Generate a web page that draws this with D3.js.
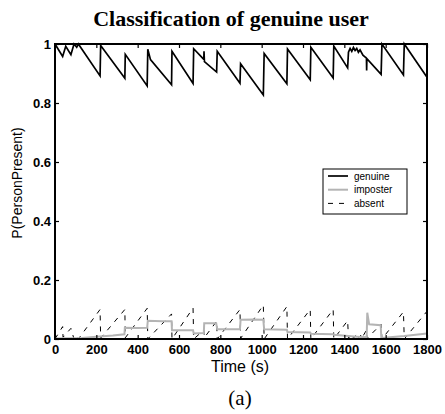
<!DOCTYPE html>
<html lang="en">
<head>
<meta charset="utf-8">
<title>Classification of genuine user</title>
<script src="https://cdn.jsdelivr.net/npm/d3@7"></script>
<style>
  body { margin: 0; background: #fff; }
  svg text { font-family: "Liberation Sans", Arial, sans-serif; }
  .tick text { font-weight: bold; font-size: 13px; }
</style>
</head>
<body>
<div id="chart"></div>
<script>
// time (s) / probability pairs
const genuineT = [0, 37, 52, 77, 92, 105, 113, 218, 221, 338, 340, 446, 449, 462, 564, 566, 668, 671, 720, 721, 723, 782, 785, 895, 898, 1008, 1012, 1122, 1125, 1235, 1238, 1346, 1349, 1416, 1420, 1428, 1436, 1444, 1452, 1460, 1468, 1476, 1490, 1507, 1508, 1509, 1578, 1582, 1686, 1690, 1800];
const genuineP = [1.0, 0.958, 0.992, 0.964, 1.0, 0.989, 1.0, 0.892, 0.995, 0.884, 0.965, 0.858, 0.982, 0.947, 0.862, 0.975, 0.866, 0.984, 0.948, 0.975, 0.94, 0.905, 0.975, 0.867, 0.933, 0.827, 0.968, 0.865, 0.983, 0.879, 0.989, 0.885, 0.993, 0.919, 0.972, 0.985, 0.975, 0.988, 0.978, 0.985, 0.972, 0.98, 0.962, 0.952, 0.91, 0.95, 0.897, 1.0, 0.895, 1.0, 0.887];

const imposterT = [0, 130, 200, 280, 336, 338, 400, 446, 449, 520, 564, 566, 620, 668, 671, 720, 722, 780, 785, 850, 895, 898, 960, 1008, 1012, 1122, 1125, 1235, 1238, 1346, 1349, 1420, 1460, 1508, 1511, 1520, 1576, 1579, 1690, 1800];
const imposterP = [0.002, 0.003, 0.008, 0.012, 0.016, 0.038, 0.037, 0.038, 0.062, 0.06, 0.06, 0.03, 0.03, 0.03, 0.019, 0.02, 0.053, 0.053, 0.033, 0.033, 0.033, 0.065, 0.066, 0.065, 0.033, 0.031, 0.024, 0.022, 0.018, 0.016, 0.014, 0.01, 0.008, 0.006, 0.089, 0.05, 0.047, 0.003, 0.01, 0.019];

const absentT = [0, 37, 39, 77, 92, 105, 113, 218, 221, 338, 340, 446, 449, 564, 566, 668, 671, 720, 723, 782, 785, 895, 898, 1008, 1012, 1122, 1125, 1235, 1238, 1346, 1349, 1416, 1420, 1440, 1442, 1460, 1462, 1480, 1482, 1507, 1510, 1578, 1582, 1686, 1690, 1800];
const absentP = [0, 0.042, 0.006, 0.036, 0, 0.012, 0, 0.1, 0.003, 0.1, 0.004, 0.104, 0, 0.085, 0, 0.105, 0, 0.03, 0.005, 0.06, 0, 0.1, 0.002, 0.115, 0, 0.11, 0, 0.1, 0, 0.1, 0, 0.062, 0.004, 0.015, 0.002, 0.014, 0.002, 0.012, 0, 0.03, 0.002, 0.05, 0, 0.092, 0, 0.094];

const xTicks = [0, 200, 400, 600, 800, 1000, 1200, 1400, 1600, 1800];
const yTicks = [0, 0.2, 0.4, 0.6, 0.8, 1];
const legendNames = ["genuine", "imposter", "absent"];

const w = 445, h = 414;
const plotL = 55, plotR = 427, plotT = 44, plotB = 339;

const svg = d3.select("#chart").append("svg")
  .attr("width", w)
  .attr("height", h);

const x = d3.scaleLinear().domain([0, 1800]).range([plotL, plotR]);
const y = d3.scaleLinear().domain([0, 1]).range([plotB, plotT]);

// title
svg.append("text")
  .attr("x", 231).attr("y", 26)
  .attr("text-anchor", "middle")
  .style("font-family", "'Liberation Serif', 'Times New Roman', serif")
  .style("font-weight", "bold")
  .style("font-size", "22px")
  .text("Classification of genuine user");

const zip = (ts, ps) => ts.map((t, i) => [t, ps[i]]);
const line = d3.line().x(d => x(d[0])).y(d => y(d[1]));

const series = [
  { name: "absent", data: zip(absentT, absentP), color: "#000", width: 1, dash: "5,6" },
  { name: "imposter", data: zip(imposterT, imposterP), color: "#b4b4b4", width: 2, dash: null },
  { name: "genuine", data: zip(genuineT, genuineP), color: "#000", width: 1.7, dash: null }
];

svg.append("g")
  .selectAll("path")
  .data(series)
  .enter()
  .append("path")
    .attr("d", d => line(d.data))
    .attr("fill", "none")
    .attr("stroke", d => d.color)
    .attr("stroke-width", d => d.width)
    .attr("stroke-dasharray", d => d.dash);

// axes, MATLAB style: inward ticks on all four sides
const xAxis = d3.axisBottom(x).tickValues(xTicks).tickSize(-4).tickPadding(6).tickFormat(d3.format("d"));
const yAxis = d3.axisLeft(y).tickValues(yTicks).tickSize(-4).tickPadding(4).tickFormat(d => d === 0 || d === 1 ? d : d3.format(".1f")(d));

svg.append("g").attr("class", "x axis")
  .attr("transform", `translate(0,${plotB})`)
  .call(xAxis);
svg.append("g").attr("class", "y axis")
  .attr("transform", `translate(${plotL},0)`)
  .call(yAxis);
svg.append("g")
  .attr("transform", `translate(0,${plotT})`)
  .call(d3.axisTop(x).tickValues(xTicks).tickSize(-4).tickFormat(""));
svg.append("g")
  .attr("transform", `translate(${plotR},0)`)
  .call(d3.axisRight(y).tickValues(yTicks).tickSize(-4).tickFormat(""));

svg.selectAll(".domain").remove();
svg.selectAll(".tick line").attr("stroke", "#000").attr("stroke-width", 1.2);
svg.selectAll(".tick text").attr("fill", "#000");

svg.append("rect")
  .attr("x", plotL).attr("y", plotT)
  .attr("width", plotR - plotL).attr("height", plotB - plotT)
  .attr("fill", "none")
  .attr("stroke", "#000")
  .attr("stroke-width", 2);

// axis labels
svg.append("text")
  .attr("x", 240).attr("y", 372)
  .attr("text-anchor", "middle")
  .style("font-size", "16px")
  .text("Time (s)");

svg.append("text")
  .attr("transform", "translate(22,183) rotate(-90)")
  .attr("text-anchor", "middle")
  .style("font-size", "14px")
  .text("P(PersonPresent)");

svg.append("text")
  .attr("x", 240).attr("y", 405)
  .attr("text-anchor", "middle")
  .style("font-family", "'Liberation Serif', 'Times New Roman', serif")
  .style("font-size", "21px")
  .text("(a)");

// legend
const legend = svg.append("g").attr("transform", "translate(323,169)");
legend.append("rect")
  .attr("width", 84).attr("height", 45)
  .attr("fill", "#fff")
  .attr("stroke", "#000")
  .attr("stroke-width", 1);

const legendStyle = {
  genuine: series[2], imposter: series[1], absent: series[0]
};
const items = legend.selectAll("g.item")
  .data(legendNames)
  .enter()
  .append("g")
    .attr("class", "item")
    .attr("transform", (d, i) => `translate(0,${7 + i * 13.7})`);
items.append("line")
  .attr("x1", 5).attr("x2", 25)
  .attr("stroke", d => legendStyle[d].color)
  .attr("stroke-width", d => legendStyle[d].width)
  .attr("stroke-dasharray", d => legendStyle[d].dash);
items.append("text")
  .attr("x", 31).attr("y", 3.5)
  .style("font-size", "10px")
  .text(d => d);
</script>
</body>
</html>
